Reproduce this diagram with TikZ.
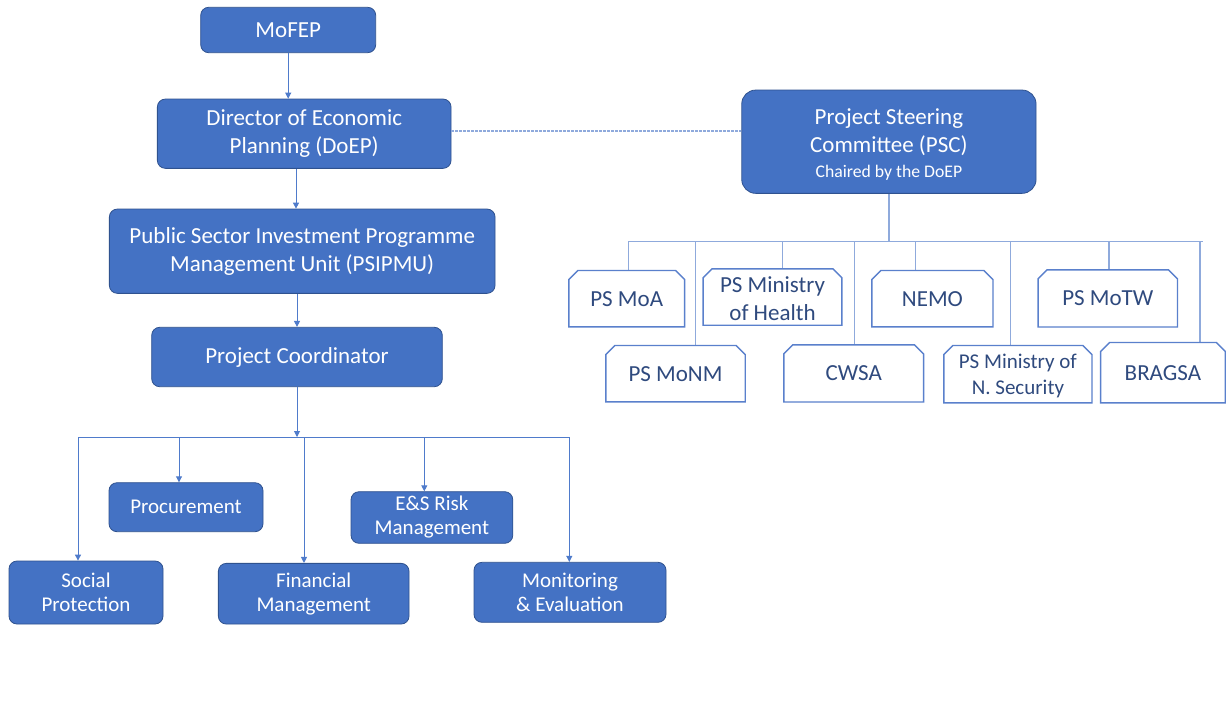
\documentclass[tikz,border=0pt]{standalone}
\usepackage{fontspec}
\setmainfont{Carlito}
\usetikzlibrary{arrows.meta,calc}
\definecolor{boxblue}{HTML}{4472C4}
\definecolor{boxedge}{HTML}{2F528F}
\definecolor{linkblue}{HTML}{4F7BCB}
\definecolor{lightlink}{HTML}{8FAADC}
\definecolor{psedge}{HTML}{5A80CC}
\definecolor{pstext}{HTML}{2F4A7E}
\newcommand\snipbox[1]{\draw[pslinestyle] (#1.south west) -- ([yshift=-9pt]#1.north west) -- ([xshift=9pt]#1.north west) -- ([xshift=-9pt]#1.north east) -- ([yshift=-9pt]#1.north east) -- (#1.south east) -- cycle;}
\tikzset{
  bluebox/.style={fill=boxblue, draw=boxedge, line width=0.8pt, rounded corners=8pt, text=white, align=center, inner sep=2pt},
  topfont/.style={font=\fontsize{23}{28}\selectfont},
  lowfont/.style={font=\fontsize{21}{24}\selectfont},
  psnode/.style={text=pstext, align=center, inner sep=2pt, font=\fontsize{23}{27.7}\selectfont},
  pslinestyle/.style={draw=psedge, line width=1.4pt, fill=white},
  arr/.style={draw=linkblue, line width=0.9pt, -{Triangle[width=6pt,length=6pt]}},
  link/.style={draw=linkblue, line width=0.9pt},
  pslink/.style={draw=lightlink, line width=1.3pt},
  dotlink/.style={draw=lightlink, line width=1.3pt, dash pattern=on 2.5pt off 1.5pt},
  plaintext/.style={text=white, align=center, inner sep=0pt},
}
\begin{document}
\begin{tikzpicture}[x=1pt,y=-1pt]
\useasboundingbox[fill=white] (0,0) rectangle (1228,704);

% left column
\node[bluebox, topfont, minimum width=175pt, minimum height=45.4pt] (mofep) at (288.2,30) {MoFEP};
\node[bluebox, topfont, minimum width=293.7pt, minimum height=69.3pt] (doep) at (304.2,133.7) {Director of Economic\\Planning (DoEP)};
\node[bluebox, topfont, minimum width=385.7pt, minimum height=84.3pt] (psipmu) at (302.2,251.2) {Public Sector Investment Programme\\Management Unit (PSIPMU)};
\node[bluebox, topfont, minimum width=290.6pt, minimum height=59.4pt] (coord) at (297,357) {Project Coordinator};

\node[bluebox, lowfont, minimum width=154pt, minimum height=49pt] (proc) at (186,507.2) {Procurement};
\node[bluebox, lowfont, minimum width=161.7pt, minimum height=51.6pt] (esr) at (431.9,517.5) {E\&S Risk\\Management};
\node[bluebox, lowfont, minimum width=154pt, minimum height=63pt] (sp) at (86,592.5) {Social\\Protection};
\node[bluebox, lowfont, minimum width=190.7pt, minimum height=60.7pt] (fm) at (313.7,593.7) {Financial\\Management};
\node[bluebox, lowfont, minimum width=192pt, minimum height=60pt] (me) at (570,592.3) {Monitoring\\\& Evaluation};

% PSC
\node[bluebox, rounded corners=14pt, minimum width=294.3pt, minimum height=103.3pt] (psc) at (888.9,141.7) {};
\node[plaintext, font=\fontsize{23}{28}\selectfont] (psctext) at ([yshift=-3pt]psc.center) {Project Steering\\Committee (PSC)\\[-3pt]{\fontsize{17.7}{21}\selectfont Chaired by the DoEP}};

% connectors left
\draw[arr] (mofep.south) -- (mofep.south |- doep.north);
\coordinate (dx) at (296,0);
\draw[arr] (dx |- doep.south) -- (dx |- psipmu.north);
\draw[arr] (coord.north |- psipmu.south) -- (coord.north);
\coordinate (busL) at (78,437);
\coordinate (busR) at (569.3,437);
\coordinate (bproc) at (179,437);
\coordinate (bfm) at (304,437);
\coordinate (besr) at (424.3,437);
\draw[arr] (coord.south) -- (coord.south |- busL);
\draw[link] (busL) -- (busR);
\draw[arr] (busL) -- (busL |- sp.north);
\draw[arr] (bproc) -- (bproc |- proc.north);
\draw[arr] (bfm) -- (bfm |- fm.north);
\draw[arr] (besr) -- (besr |- esr.north);
\draw[arr] (busR) -- (busR |- me.north);

\coordinate (dashy) at (0,131);
\draw[dotlink] (doep.east |- dashy) -- (psc.west |- dashy);

% PS boxes (nodes)
\node[psnode, minimum width=115.3pt, minimum height=56pt] (moa) at (626.7,298.7) {};
\node[psnode, minimum width=138.4pt, minimum height=56pt] (moh) at (772.5,297) {};
\node[psnode, minimum width=120.7pt, minimum height=56pt] (nemo) at (932.4,298.7) {};
\node[psnode, minimum width=139pt, minimum height=56.7pt] (motw) at (1107.8,298.4) {};
\node[psnode, minimum width=139pt, minimum height=56pt] (monm) at (675.5,373.7) {};
\node[psnode, minimum width=139.3pt, minimum height=56.7pt] (cwsa) at (853.7,373.4) {};
\node[psnode, minimum width=147.7pt, minimum height=57pt] (nsec) at (1017.9,374.2) {};
\node[psnode, minimum width=124.3pt, minimum height=60pt] (bragsa) at (1162.9,372.7) {};

% PSC connectors
\coordinate (pL) at (628.3,241.5);
\coordinate (pR) at (1203,241.5);
\draw[pslink] (psc.south) -- (psc.south |- pL);
\draw[pslink] (pL) -- (pR);
\foreach \n/\x in {moa/628.3, monm/695.7, moh/782.7, cwsa/854.7, nemo/915.7, nsec/1010.7, motw/1109, bragsa/1200}{
  \coordinate (drop) at (\x,241.5);
  \draw[pslink] (drop) -- (drop |- \n.north);
}

% snipped outlines and text
\foreach \n in {moa,moh,nemo,motw,monm,cwsa,nsec,bragsa}{\snipbox{\n}}
\node[psnode] at (moa) {PS MoA};
\node[psnode] at ([yshift=-2pt]moh.center) {PS Ministry\\of Health};
\node[psnode] at (nemo) {NEMO};
\node[psnode] at (motw) {PS MoTW};
\node[psnode] at (monm) {PS MoNM};
\node[psnode] at (cwsa) {CWSA};
\node[psnode, font=\fontsize{21}{25.7}\selectfont] at ([yshift=-2pt]nsec.center) {PS Ministry of\\N. Security};
\node[psnode] at (bragsa) {BRAGSA};
\end{tikzpicture}
\end{document}
